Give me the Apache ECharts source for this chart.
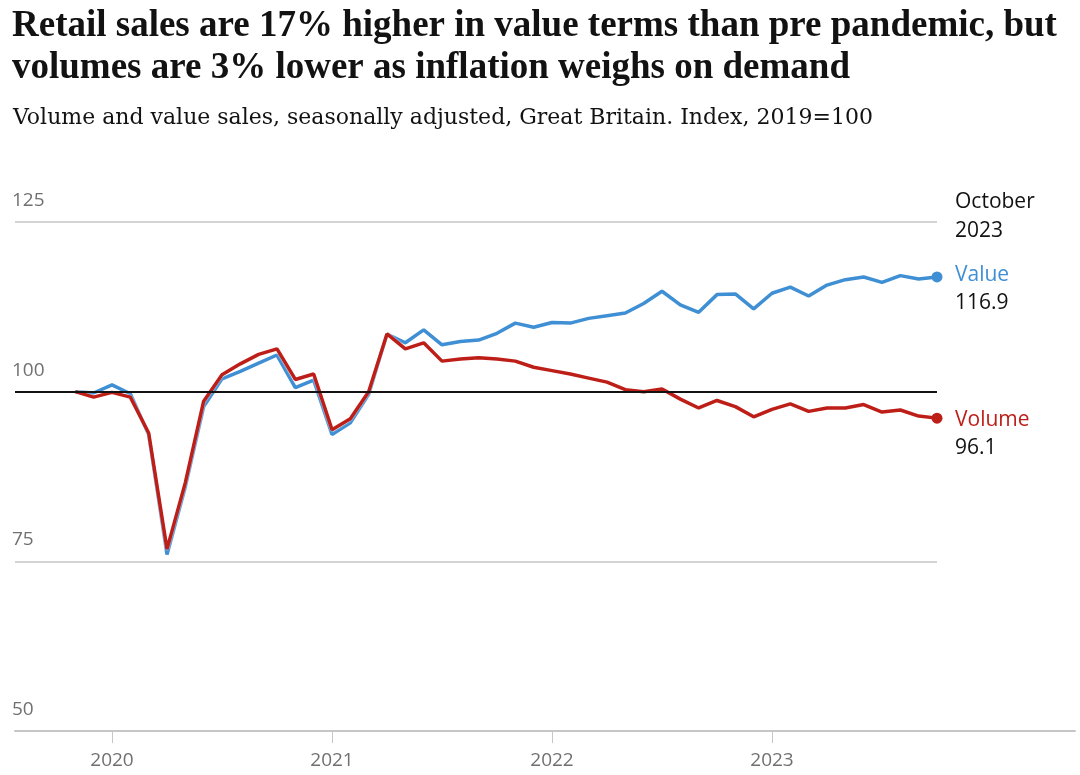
<!DOCTYPE html>
<html>
<head>
<meta charset="utf-8">
<script src="https://cdn.jsdelivr.net/npm/echarts@6/dist/echarts.min.js"></script>
<style>
html,body{margin:0;padding:0;background:#fff;}
#chart{width:1080px;height:775px;}
</style>
</head>
<body>
<div id="chart"></div>
<script>
// ---- Data ----
const months = [
  '2019-11','2019-12',
  '2020-01','2020-02','2020-03','2020-04','2020-05','2020-06','2020-07','2020-08','2020-09','2020-10','2020-11','2020-12',
  '2021-01','2021-02','2021-03','2021-04','2021-05','2021-06','2021-07','2021-08','2021-09','2021-10','2021-11','2021-12',
  '2022-01','2022-02','2022-03','2022-04','2022-05','2022-06','2022-07','2022-08','2022-09','2022-10','2022-11','2022-12',
  '2023-01','2023-02','2023-03','2023-04','2023-05','2023-06','2023-07','2023-08','2023-09','2023-10'
];
const valueSales = [
  100.0, 99.8,
  101.0, 99.7, 93.7, 76.0, 86.0, 97.8, 101.9, 103.0, 104.2, 105.4, 100.6, 101.7,
  93.7, 95.4, 99.6, 108.5, 107.2, 109.1, 106.9, 107.4, 107.6, 108.6, 110.1, 109.5,
  110.2, 110.1, 110.8, 111.2, 111.6, 113.0, 114.8, 112.8, 111.7, 114.3, 114.4, 112.2,
  114.5, 115.4, 114.1, 115.7, 116.5, 116.9, 116.1, 117.1, 116.6, 116.9
];
const volumeSales = [
  100.0, 99.2,
  99.9, 99.2, 93.9, 76.8, 86.6, 98.6, 102.5, 104.1, 105.5, 106.3, 101.8, 102.6,
  94.4, 96.0, 100.0, 108.5, 106.3, 107.2, 104.5, 104.8, 105.0, 104.8, 104.5, 103.6,
  103.1, 102.6, 102.0, 101.4, 100.3, 100.0, 100.4, 98.9, 97.6, 98.7, 97.8, 96.3,
  97.4, 98.2, 97.1, 97.6, 97.6, 98.1, 97.0, 97.3, 96.4, 96.1
];
const yearTicks = [2020, 2021, 2022, 2023];
const yTicks = [50, 75, 100, 125];
const gridLevels = [125, 75];
const baseline = 100;
const titleText = 'Retail sales are 17% higher in value terms than pre pandemic, but\nvolumes are 3% lower as inflation weighs on demand';
const subtitleText = 'Volume and value sales, seasonally adjusted, Great Britain. Index, 2019=100';
const latestLabel = 'October\n2023';
const seriesNames = ['Value', 'Volume'];

// ---- Helpers ----
const toYear = m => { const [y, mo] = m.split('-').map(Number); return y + (mo - 1) / 12; };
const xs = months.map(toYear);
const lastX = xs[xs.length - 1];
const X_MIN = 2019.5591, X_MAX = 2024.3773;

const BLUE = '#3f8fd4';
const RED = '#bd1e17';
const SANS = '"Open Sans", "Noto Sans", sans-serif';

function pairs(vals) {
  return vals.map((v, i) => [xs[i], v]);
}
function endSize(v, p) { return p.dataIndex === months.length - 1 ? 11 : 0; }

function endLabel(color, dy) {
  return {
    show: true, distance: 8, offset: [10, dy], align: 'left', verticalAlign: 'top',
    formatter: p => '{n|' + p.seriesName + '}\n{v|' + p.value[1].toFixed(1) + '}',
    rich: {
      n: {color: color, fontFamily: SANS, fontSize: 21, fontWeight: 500, lineHeight: 28},
      v: {color: '#121212', fontFamily: SANS, fontSize: 21, lineHeight: 28}
    }
  };
}

const chart = echarts.init(document.getElementById('chart'), null, {renderer: 'canvas'});
chart.setOption({
  animation: false,
  backgroundColor: '#fff',
  title: [
    {
      text: titleText,
      left: 7, top: 0,
      textStyle: {fontFamily: '"Liberation Serif", serif', fontWeight: 'bold', fontSize: 37, lineHeight: 42, color: '#121212'}
    },
    {
      text: subtitleText,
      left: 8, top: 99,
      textStyle: {fontFamily: '"DejaVu Serif", serif', fontWeight: 'normal', fontSize: 22, lineHeight: 28, color: '#121212'}
    },
    {
      text: latestLabel,
      left: 950, top: 183,
      textStyle: {fontFamily: SANS, fontWeight: 'normal', fontSize: 21, lineHeight: 29, color: '#121212'}
    }
  ],
  grid: {left: 15, right: 5, top: 222, bottom: 44, containLabel: false},
  xAxis: {
    type: 'value',
    min: X_MIN, max: X_MAX,
    axisLine: {show: true, lineStyle: {color: '#c6c6c6', width: 2}},
    axisTick: {show: true, customValues: yearTicks, length: 12, lineStyle: {color: '#c6c6c6', width: 1}},
    axisLabel: {show: true, customValues: yearTicks, formatter: v => String(Math.round(v)), color: '#707070', fontFamily: SANS, fontSize: 19, margin: 20},
    splitLine: {show: false}
  },
  yAxis: {
    type: 'value',
    min: 50, max: 125, interval: 25,
    axisLine: {show: false},
    axisTick: {show: false},
    axisLabel: {inside: true, customValues: yTicks, align: 'left', verticalAlign: 'bottom', margin: -3, padding: [0, 0, 12, 0], color: '#707070', fontFamily: SANS, fontSize: 19},
    splitLine: {show: false}
  },
  series: [
    {
      type: 'line', name: 'grid', data: [], z: 1, silent: true,
      markLine: {
        silent: true, symbol: 'none', label: {show: false}, animation: false,
        data: gridLevels.map(l => [
          {coord: [X_MIN, l], lineStyle: {color: '#d4d4d4', width: 2, type: 'solid'}},
          {coord: [lastX, l]}
        ]).concat([[
          {coord: [X_MIN, baseline], lineStyle: {color: '#121212', width: 2, type: 'solid'}},
          {coord: [lastX, baseline]}
        ]])
      }
    },
    {
      type: 'line', name: seriesNames[0], data: pairs(valueSales), z: 3,
      symbol: 'circle', symbolSize: endSize, showSymbol: true, showAllSymbol: true,
      itemStyle: {color: BLUE},
      lineStyle: {color: BLUE, width: 3.5},
      endLabel: endLabel(BLUE, -16)
    },
    {
      type: 'line', name: seriesNames[1], data: pairs(volumeSales), z: 4,
      symbol: 'circle', symbolSize: endSize, showSymbol: true, showAllSymbol: true,
      itemStyle: {color: RED},
      lineStyle: {color: RED, width: 3.5, shadowColor: 'rgba(255,255,255,0.9)', shadowBlur: 2},
      endLabel: endLabel(RED, -12)
    }
  ]
});
</script>
</body>
</html>
